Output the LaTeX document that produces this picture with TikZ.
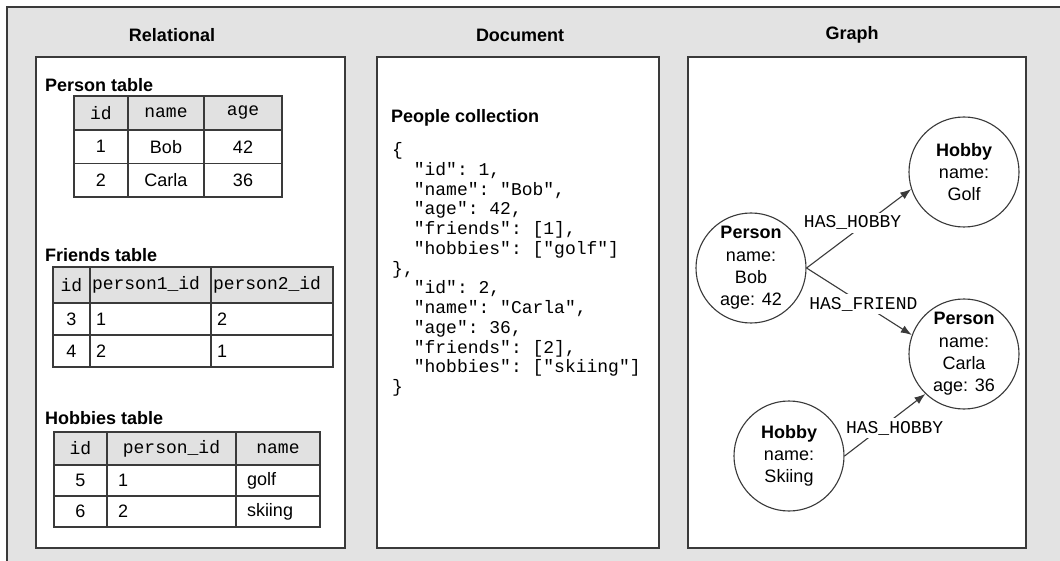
\documentclass[tikz,border=0pt]{standalone}
\usepackage{fontspec}
\setmainfont{Liberation Sans}
\setmonofont{Liberation Mono}
\usepackage{xcolor}
\usepackage{tikz}
\usetikzlibrary{arrows.meta, positioning}
\definecolor{panelgray}{HTML}{E3E3E3}
\definecolor{headgray}{HTML}{E1E1E1}
\definecolor{linegray}{HTML}{3A3A3A}
\newcommand{\jin}{\hphantom{xx}}

\begin{document}
\begin{tikzpicture}[
        x=1pt, y=-1pt,
        font=\fontsize{18}{21.6}\selectfont,
        panel/.style={draw=linegray, fill=white, line width=1.3pt},
        heading/.style={font=\fontsize{18}{21.6}\selectfont\bfseries},
        title/.style={anchor=west, inner sep=0pt, font=\fontsize{18}{21.6}\selectfont\bfseries},
        cell/.style 2 args={draw=linegray, line width=1.2pt, minimum width=#1, minimum height=#2, inner sep=0pt},
        head/.style={fill=headgray, font=\fontsize{18}{21.6}\selectfont\ttfamily},
        lcell/.style 2 args={text width=#1, inner xsep=#2, align=left},
        code/.style={anchor=west, inner sep=0pt, align=left, font=\fontsize{18}{19.75}\selectfont\ttfamily},
        entity/.style={circle, draw=linegray, line width=1.1pt, minimum size=110, inner sep=0pt, align=center, font=\fontsize{18}{22.3}\selectfont},
        arrow/.style={-{Latex[length=11pt, width=8pt]}, line width=1.1pt, draw=linegray},
        lbl/.style={fill=white, inner sep=3pt, font=\fontsize{18}{21.6}\selectfont\ttfamily}
    ]
        \useasboundingbox (0,0) rectangle (1060,561);
        \fill[panelgray] (7,7) rectangle (1060,561);
        \draw[linegray, line width=2pt] (7,561) -- (7,7) -- (1060,7);

        \node[heading] (relhead) at (172,35) {Relational};
        \node[heading] (dochead) at (520,35) {Document};
        \node[heading] (graphhead) at (852,35) {Graph};

        \draw[panel] (36,57) rectangle (345,548);
        \draw[panel] (377,57) rectangle (659,548);
        \draw[panel] (688,57) rectangle (1026,548);

        \node[title] (persontitle) at (45,85) {Person table};
        \node[cell={54}{34}, head] (pid) at (101,113) {id};
        \node[cell={76}{34}, head] (pname) at (166,113) {name};
        \node[cell={78}{34}, head] (page) at (243,113) {age};
        \node[cell={54}{33.5}] (pida) at (101,146.75) {1};
        \node[cell={76}{33.5}] (pnamea) at (166,146.75) {Bob};
        \node[cell={78}{33.5}] (pagea) at (243,146.75) {42};
        \node[cell={54}{33.5}] (pidb) at (101,180.25) {2};
        \node[cell={76}{33.5}] (pnameb) at (166,180.25) {Carla};
        \node[cell={78}{33.5}] (pageb) at (243,180.25) {36};

        \node[title] (friendstitle) at (45,255) {Friends table};
        \node[cell={37}{36}, head] (fid) at (71.5,285) {id};
        \node[cell={121}{36}, head, lcell={117}{2pt}] (fone) at (150.5,285) {person1\_id};
        \node[cell={122}{36}, head, lcell={118}{2pt}] (ftwo) at (272,285) {person2\_id};
        \node[cell={37}{32}] (fida) at (71.5,319) {3};
        \node[cell={121}{32}, lcell={109}{6pt}] (fonea) at (150.5,319) {1};
        \node[cell={122}{32}, lcell={110}{6pt}] (ftwoa) at (272,319) {2};
        \node[cell={37}{32}] (fidb) at (71.5,351) {4};
        \node[cell={121}{32}, lcell={109}{6pt}] (foneb) at (150.5,351) {2};
        \node[cell={122}{32}, lcell={110}{6pt}] (ftwob) at (272,351) {1};

        \node[title] (hobbiestitle) at (45,418) {Hobbies table};
        \node[cell={53}{33}, head] (hid) at (80.5,448.5) {id};
        \node[cell={129}{33}, head] (hperson) at (171.5,448.5) {person\_id};
        \node[cell={84}{33}, head] (hname) at (278,448.5) {name};
        \node[cell={53}{31}] (hida) at (80.5,480.5) {5};
        \node[cell={129}{31}, lcell={107}{11pt}] (hpersona) at (171.5,480.5) {1};
        \node[cell={84}{31}, lcell={62}{11pt}] (hnamea) at (278,480.5) {golf};
        \node[cell={53}{31}] (hidb) at (80.5,511.5) {6};
        \node[cell={129}{31}, lcell={107}{11pt}] (hpersonb) at (171.5,511.5) {2};
        \node[cell={84}{31}, lcell={62}{11pt}] (hnameb) at (278,511.5) {skiing};

        \node[title] (peopletitle) at (391,118) {People collection};
        \node[code] (json) at (392,269.5) {\{\\
            \jin"id": 1,\\
            \jin"name": "Bob",\\
            \jin"age": 42,\\
            \jin"friends": [1],\\
            \jin"hobbies": ["golf"]\\
            \},\\
            \jin"id": 2,\\
            \jin"name": "Carla",\\
            \jin"age": 36,\\
            \jin"friends": [2],\\
            \jin"hobbies": ["skiing"]\\
            \}};

        \node[entity] (golf) at (964,172) {\textbf{Hobby}\\name:\\Golf};
        \node[entity] (bob) at (751,268) {\textbf{Person}\\name:\\Bob\\age: 42};
        \node[entity] (carla) at (964,354) {\textbf{Person}\\name:\\Carla\\age: 36};
        \node[entity] (skiing) at (789,456) {\textbf{Hobby}\\name:\\Skiing};

        \draw[arrow] (bob.east) -- (golf.198) node[lbl, pos=0.44, above] {HAS\_HOBBY};
        \draw[arrow] (bob.east) -- (carla.160) node[lbl, pos=0.54] {HAS\_FRIEND};
        \draw[arrow] (skiing.east) -- (carla.226) node[lbl, pos=0.62, below] {HAS\_HOBBY};
    \end{tikzpicture}
\end{document}
